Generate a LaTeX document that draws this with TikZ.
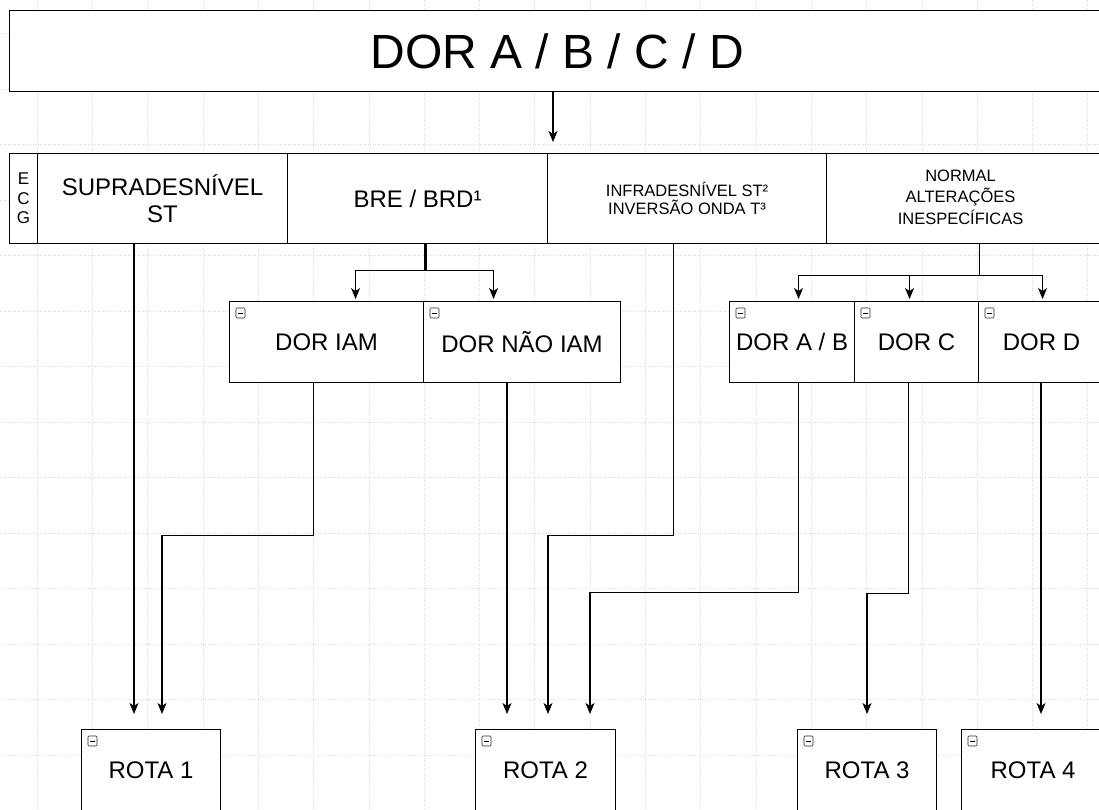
\documentclass[tikz,border=0pt]{standalone}
\usepackage{fontspec}
\setmainfont{Liberation Sans}
\usetikzlibrary{arrows.meta}
\tikzset{
  box/.style={draw=black, line width=1.1pt, fill=white, inner sep=0pt, anchor=north west, align=center, font=\fontsize{24}{27}\selectfont},
  small/.style={font=\fontsize{16.5}{18.5}\selectfont},
  conn/.style={line width=1.2pt, draw=black},
  arr/.style={conn, -{Stealth[length=11pt,width=9pt,inset=3pt]}},
  gridln/.style={gray!30, line width=0.5pt, dotted},
  icon/.style={draw=black!85, line width=0.6pt, rounded corners=1pt, fill=white},
}
\newcommand\rsicon[1]{%
  \draw[icon] ([xshift=7pt,yshift=-7pt]#1.north west) rectangle ([xshift=16pt,yshift=-17pt]#1.north west);
  \draw[line width=0.6pt] ([xshift=9pt,yshift=-12pt]#1.north west) -- ([xshift=14pt,yshift=-12pt]#1.north west);
}
\begin{document}
\begin{tikzpicture}[x=1pt,y=-1pt]
\useasboundingbox (0,0) rectangle (1099,809);
\clip (0,0) rectangle (1099,809);
\fill[white] (0,0) rectangle (1099,809);
% faint background grid
\foreach \gx in {0,...,19} \draw[gridln] ({37+55.3*\gx},0) -- ({37+55.3*\gx},809);
\foreach \gy in {0,...,14} \draw[gridln] (0,{33.5+55.5*\gy}) -- (1099,{33.5+55.5*\gy});

% header
\node[box, line width=1.4pt, minimum width=1095pt, minimum height=81pt, font=\fontsize{48}{50}\selectfont] (header) at (9,10) {DOR A / B / C / D};

% ECG row
\node[box, minimum width=28pt, minimum height=90pt, font=\fontsize{17}{19.5}\selectfont] (ecg) at (9,153) {E\\C\\G};
\node[box, minimum width=250pt, minimum height=90pt] (supra) at (37,153) {SUPRADESNÍVEL\\ST};
\node[box, minimum width=260pt, minimum height=90pt] (bre) at (287,153) {BRE / BRD¹};
\node[box, small, minimum width=279pt, minimum height=90pt] (infra) at (547,153) {INFRADESNÍVEL ST²\\INVERSÃO ONDA T³};
\node[box, minimum width=278pt, minimum height=90pt, align=none, font=\fontsize{16.5}{21.5}\selectfont] (normal) at (826,153) {\hspace*{-10pt}\begin{tabular}{@{}c@{}}NORMAL\\ALTERAÇÕES\\INESPECÍFICAS\end{tabular}};

% second level
\node[box, minimum width=194pt, minimum height=81pt] (iam) at (229,301) {DOR IAM};
\node[box, minimum width=197pt, minimum height=81pt] (naoiam) at (423,301) {DOR NÃO IAM};
\node[box, minimum width=125pt, minimum height=81pt] (dorab) at (729,301) {DOR A / B};
\node[box, minimum width=124pt, minimum height=81pt] (dorc) at (854,301) {DOR C};
\node[box, minimum width=126pt, minimum height=81pt] (dord) at (978,301) {DOR D};

% routes
\node[box, minimum width=139pt, minimum height=82pt] (rota1) at (81,729) {ROTA 1};
\node[box, minimum width=140pt, minimum height=82pt] (rota2) at (475,729) {ROTA 2};
\node[box, minimum width=139pt, minimum height=82pt] (rota3) at (797,729) {ROTA 3};
\node[box, minimum width=143pt, minimum height=82pt] (rota4) at (961,729) {ROTA 4};

\foreach \n in {iam,naoiam,dorab,dorc,dord,rota1,rota2,rota3,rota4} {\rsicon{\n}}

% arrow ends
\coordinate (hin) at (553,142);
\coordinate (r1a) at (134,714);
\coordinate (r1b) at (162,714);
\coordinate (r2a) at (507,714);
\coordinate (r2b) at (548,714);
\coordinate (r2c) at (590,714);
\coordinate (r3a) at (867,714);
\coordinate (r4a) at (1041,714);

% connectors
\draw[arr] (hin |- header.south) -- (hin);
\draw[arr] (r1a |- supra.south) -- (r1a);
\draw[arr] ([xshift=-13pt]iam.south) -- ++(0,152) -| (r1b);
\draw[line width=2.6pt] ([xshift=8pt]bre.south) -- ++(0,26) coordinate (brej);
\draw[arr] (brej) -| ([xshift=29pt,yshift=2pt]iam.north);
\draw[arr] (brej) -| ([xshift=-28.5pt,yshift=2pt]naoiam.north);
\draw[arr] (r2a |- naoiam.south) -- (r2a);
\draw[arr] ([xshift=-13.5pt]infra.south) -- ++(0,291) -| (r2b);
\draw[arr] ([xshift=6.5pt]dorab.south) -- ++(0,209) -| (r2c);
\draw[line width=1.4pt] ([xshift=14pt]normal.south) -- ++(0,31) coordinate (nj);
\draw[arr] (nj) -| ([xshift=6.5pt,yshift=2pt]dorab.north);
\draw[arr] (nj) -| ([xshift=1pt,yshift=2pt]dord.north);
\draw[arr] ([xshift=-7pt]dorc.north |- nj) -- ([xshift=-7pt,yshift=2pt]dorc.north);
\draw[arr] ([xshift=-8pt]dorc.south) -- ++(0,210) -| (r3a);
\draw[arr] (r4a |- dord.south) -- (r4a);
\end{tikzpicture}
\end{document}
